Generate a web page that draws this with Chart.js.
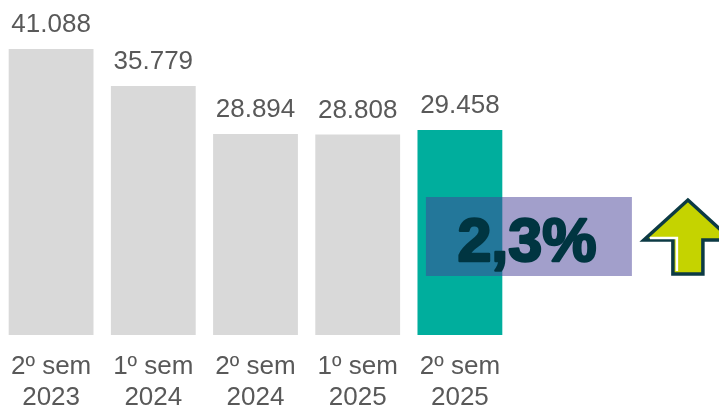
<!DOCTYPE html>
<html lang="pt">

<head>
    <meta charset="UTF-8">
    <title>Semestres</title>
    <script src="https://cdn.jsdelivr.net/npm/chart.js"></script>
    <style>
        html, body { margin: 0; padding: 0; background: #fff; }
        #wrap { width: 719px; height: 408px; }
    </style>
</head>

<body>
    <div id="wrap"><canvas id="semChart" width="719" height="408"></canvas></div>

    <script>
        // data
        const categories = [['2º sem', '2023'], ['1º sem', '2024'], ['2º sem', '2024'], ['1º sem', '2025'], ['2º sem', '2025']];
        const values = [41088, 35779, 28894, 28808, 29458];
        const barColors = ['#d9d9d9', '#d9d9d9', '#d9d9d9', '#d9d9d9', '#00ae9d'];
        const changeText = '2,3%';

        function fmt(n) {
            return String(n).replace(/\B(?=(\d{3})+(?!\d))/g, '.');
        }

        // value labels above each bar
        const valueLabels = {
            id: 'valueLabels',
            afterDatasetsDraw(chart) {
                const ctx = chart.ctx;
                const meta = chart.getDatasetMeta(0);
                ctx.save();
                ctx.font = '26px "Liberation Sans", Arial, sans-serif';
                ctx.fillStyle = '#595959';
                ctx.textAlign = 'center';
                ctx.textBaseline = 'alphabetic';
                meta.data.forEach((bar, i) => {
                    ctx.fillText(fmt(values[i]), bar.x, bar.y - 17);
                });
                ctx.restore();
            }
        };

        // percentage box + arrow, placed off the last bar
        const changeBadge = {
            id: 'changeBadge',
            afterDraw(chart) {
                const ctx = chart.ctx;
                const meta = chart.getDatasetMeta(0);
                const last = meta.data[meta.data.length - 1];
                const cx = last.x;
                const base = chart.chartArea.bottom;

                ctx.save();
                // box
                ctx.fillStyle = 'rgba(70, 63, 151, 0.5)';
                ctx.fillRect(cx - 34, base - 138, 206, 79);

                // text
                ctx.font = 'bold 61px "Liberation Sans", Arial, sans-serif';
                ctx.fillStyle = '#003541';
                ctx.strokeStyle = '#003541';
                ctx.lineWidth = 2.5;
                ctx.lineJoin = 'round';
                ctx.textAlign = 'center';
                ctx.textBaseline = 'alphabetic';
                ctx.strokeText(changeText, cx + 67, base - 74);
                ctx.fillText(changeText, cx + 67, base - 74);

                // arrow
                const ax = cx + 228, tipY = base - 135;
                const wingY = tipY + 40, botY = tipY + 74;
                ctx.beginPath();
                ctx.moveTo(ax, tipY);
                ctx.lineTo(ax + 44, wingY);
                ctx.lineTo(ax + 15, wingY);
                ctx.lineTo(ax + 15, botY);
                ctx.lineTo(ax - 15, botY);
                ctx.lineTo(ax - 15, wingY);
                ctx.lineTo(ax - 44, wingY);
                ctx.closePath();
                ctx.fillStyle = '#c5d300';
                ctx.fill();
                ctx.lineWidth = 3.5;
                ctx.lineJoin = 'miter';
                ctx.strokeStyle = '#0c3a44';
                ctx.stroke();
                // white inner highlight
                ctx.beginPath();
                ctx.moveTo(ax - 38, wingY - 2);
                ctx.lineTo(ax - 11, wingY - 2);
                ctx.lineTo(ax - 11, botY - 3);
                ctx.strokeStyle = '#ffffff';
                ctx.lineWidth = 2.5;
                ctx.stroke();
                ctx.restore();
            }
        };

        new Chart(document.getElementById('semChart'), {
            type: 'bar',
            data: {
                labels: categories,
                datasets: [{
                    data: values,
                    backgroundColor: barColors,
                    borderWidth: 0,
                    barPercentage: 0.83,
                    categoryPercentage: 1
                }]
            },
            options: {
                responsive: false,
                animation: false,
                layout: { padding: { top: 1, right: 208, left: 0, bottom: 0 } },
                plugins: {
                    legend: { display: false },
                    tooltip: { enabled: false }
                },
                scales: {
                    x: {
                        grid: { display: false, drawTicks: false },
                        border: { display: false },
                        afterFit(scale) {
                            scale.height = 73;
                            scale.paddingLeft = 0;
                            scale.paddingRight = 0;
                        },
                        ticks: {
                            color: '#595959',
                            padding: 16,
                            font: { family: '"Liberation Sans", Arial, sans-serif', size: 26, lineHeight: 1.2 }
                        }
                    },
                    y: {
                        display: false,
                        min: 0,
                        max: 48000
                    }
                }
            },
            plugins: [valueLabels, changeBadge]
        });
    </script>
</body>

</html>
